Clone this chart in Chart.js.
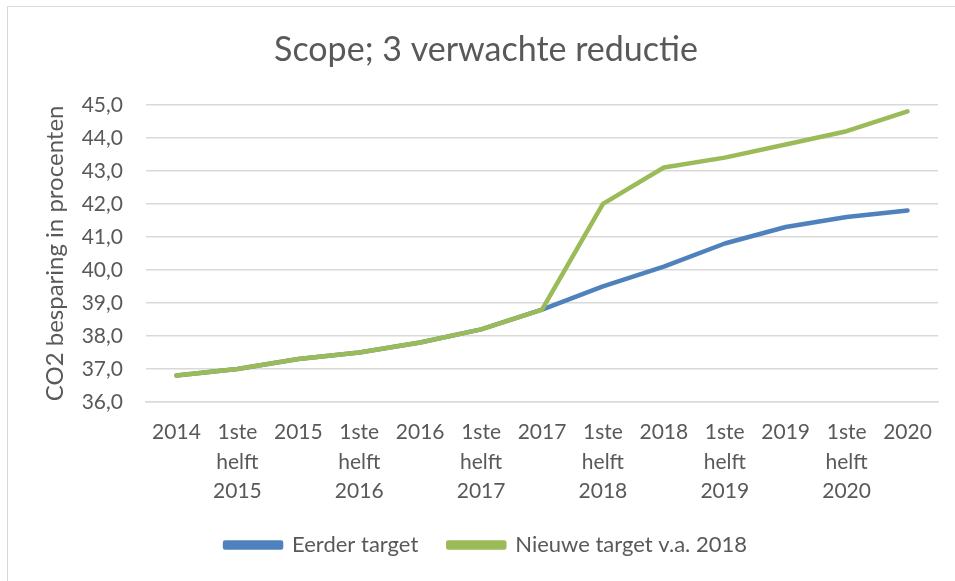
<!DOCTYPE html>
<html>
<head>
<meta charset="utf-8">
<script src="https://cdn.jsdelivr.net/npm/chart.js@4.4.1/dist/chart.umd.min.js"></script>
<style>
    html, body { margin: 0; padding: 0; background: #fff; }
    .frame {
        position: absolute; left: 7px; top: 6px; width: 980px; height: 600px;
        border: 1px solid #d9d9d9;
    }
    .chart-box { position: absolute; left: 0; top: 0; width: 955px; height: 581px; }
</style>
</head>
<body>
    <div class="frame"></div>
    <div class="chart-box">
        <canvas id="lineChart"></canvas>
    </div>

    <script>
        // Données
        const periods = [
            ['2014'], ['1ste', 'helft', '2015'], ['2015'], ['1ste', 'helft', '2016'],
            ['2016'], ['1ste', 'helft', '2017'], ['2017'], ['1ste', 'helft', '2018'],
            ['2018'], ['1ste', 'helft', '2019'], ['2019'], ['1ste', 'helft', '2020'], ['2020']
        ];
        const eerderTarget = [36.8, 37.0, 37.3, 37.5, 37.8, 38.2, 38.8, 39.5, 40.1, 40.8, 41.3, 41.6, 41.8];
        const nieuweTarget = [36.8, 37.0, 37.3, 37.5, 37.8, 38.2, 38.8, 42.0, 43.1, 43.4, 43.8, 44.2, 44.8];
        const yTicks = [36, 37, 38, 39, 40, 41, 42, 43, 44, 45];

        const textColor = '#595959';
        const gridColor = '#d9d9d9';
        const fontFamily = 'Lato, "Open Sans", sans-serif';

        const ctx = document.getElementById('lineChart').getContext('2d');
        const chart = new Chart(ctx, {
            type: 'line',
            data: {
                labels: periods,
                datasets: [{
                    label: 'Eerder target',
                    data: eerderTarget,
                    borderColor: '#4f81bd',
                    backgroundColor: '#4f81bd',
                    borderWidth: 4.5,
                    pointRadius: 0,
                    borderCapStyle: 'round',
                    borderJoinStyle: 'round',
                    order: 1
                }, {
                    label: 'Nieuwe target v.a. 2018',
                    data: nieuweTarget,
                    borderColor: '#9bbb59',
                    backgroundColor: '#9bbb59',
                    borderWidth: 4.5,
                    pointRadius: 0,
                    borderCapStyle: 'round',
                    borderJoinStyle: 'round',
                    order: 0   // groene lijn bovenop
                }]
            },
            options: {
                responsive: true,
                maintainAspectRatio: false,
                animation: false,
                layout: { padding: { left: 34, right: 17, top: 0, bottom: 15 } },
                plugins: {
                    title: {
                        display: true,
                        text: 'Scope; 3 verwachte reductie',
                        color: textColor,
                        font: { family: fontFamily, size: 34, weight: 'normal' },
                        padding: { top: 30, bottom: 34 }
                    },
                    legend: {
                        position: 'bottom',
                        labels: {
                            color: textColor,
                            font: { family: fontFamily, size: 22 },
                            boxWidth: 56,
                            boxHeight: 5,
                            padding: 30,
                            sort: (a, b) => a.datasetIndex - b.datasetIndex
                        }
                    },
                    tooltip: { enabled: false }
                },
                scales: {
                    x: {
                        offset: true,
                        afterFit: axis => { axis.height = 102; },
                        grid: { display: false, drawTicks: false },
                        border: { color: gridColor, width: 1.5 },
                        ticks: {
                            color: textColor,
                            font: { family: fontFamily, size: 21, lineHeight: 1.4 },
                            maxRotation: 0,
                            autoSkip: false,
                            padding: 16
                        }
                    },
                    y: {
                        min: 36,
                        max: 45,
                        afterBuildTicks: axis => { axis.ticks = yTicks.map(v => ({ value: v })); },
                        afterFit: axis => { axis.width = 112; },
                        title: {
                            display: true,
                            text: 'CO2 besparing in procenten',
                            color: textColor,
                            font: { family: fontFamily, size: 24 },
                            padding: { top: 7, bottom: 0 }
                        },
                        grid: { color: gridColor, lineWidth: 1.5, drawTicks: false },
                        border: { display: false },
                        ticks: {
                            color: textColor,
                            font: { family: fontFamily, size: 21 },
                            padding: 23,
                            callback: v => v.toFixed(1).replace('.', ',')
                        }
                    }
                }
            }
        });
    </script>
</body>
</html>
